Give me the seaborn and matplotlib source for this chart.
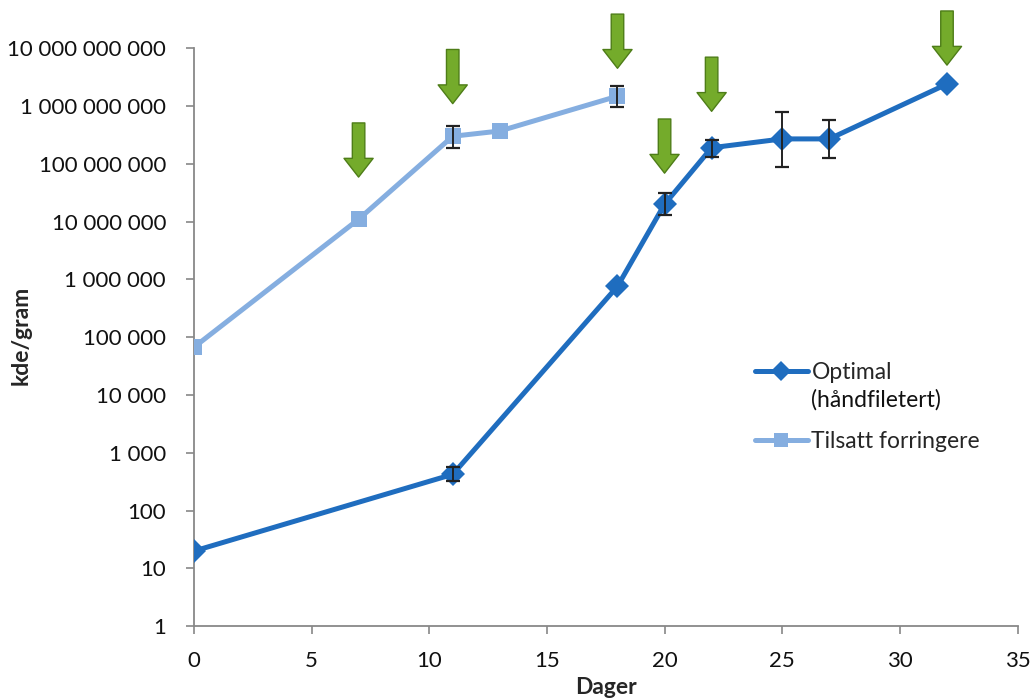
import numpy as np
import pandas as pd
import matplotlib
matplotlib.use("Agg")
import matplotlib.pyplot as plt
import seaborn as sns
from matplotlib.ticker import FixedLocator, FuncFormatter, NullLocator

# data
optimal_days = [0, 11, 18, 20, 22, 25, 27, 32]
optimal_kde = [20, 425, 7.6e5, 2.0e7, 1.9e8, 2.7e8, 2.7e8, 2.4e9]
optimal_low = [20, 320, 7.6e5, 1.3e7, 1.3e8, 8.7e7, 1.25e8, 2.4e9]
optimal_high = [20, 560, 7.6e5, 3.1e7, 2.6e8, 7.8e8, 5.7e8, 2.4e9]

tilsatt_days = [0, 7, 11, 13, 18]
tilsatt_kde = [6.7e4, 1.1e7, 3.0e8, 3.7e8, 1.48e9]
tilsatt_low = [6.7e4, 1.1e7, 1.9e8, 3.7e8, 9.5e8]
tilsatt_high = [6.7e4, 1.1e7, 4.5e8, 3.7e8, 2.2e9]

# green arrows: day and the level of the arrow tip
arrow_days = [7, 11, 18, 20, 22, 32]
arrow_tips = [5.9e7, 1.1e9, 4.5e9, 6.9e7, 8.1e8, 5.1e9]

label_opt = "Optimal"
label_opt2 = "(håndfiletert)"
label_til = "Tilsatt forringere"

df = pd.concat([
    pd.DataFrame({"Dager": optimal_days, "kde": optimal_kde, "serie": label_opt}),
    pd.DataFrame({"Dager": tilsatt_days, "kde": tilsatt_kde, "serie": label_til}),
])

sns.set_style("white")
plt.rcParams["font.family"] = ["Lato", "DejaVu Sans"]

fig = plt.figure(figsize=(10.31, 6.99), dpi=100)
ax = fig.add_axes([0.188, 0.104, 0.799, 0.827])

colors = {label_opt: "#1f6dbf", label_til: "#85aee0"}
sns.lineplot(data=df, x="Dager", y="kde", hue="serie", style="serie",
             palette=colors, markers={label_opt: "D", label_til: "s"},
             dashes=False, linewidth=3.6, markersize=12, markeredgewidth=0,
             ax=ax, zorder=3)

# error bars only where the point has a spread
for days, vals, lo, hi in [(optimal_days, optimal_kde, optimal_low, optimal_high),
                           (tilsatt_days, tilsatt_kde, tilsatt_low, tilsatt_high)]:
    days, vals, lo, hi = map(np.array, (days, vals, lo, hi))
    m = hi > lo
    ax.errorbar(days[m], vals[m], yerr=[vals[m] - lo[m], hi[m] - vals[m]], fmt="none",
                ecolor="#222222", elinewidth=1.4, capsize=5, capthick=1.6, zorder=4)

for d, tip in zip(arrow_days, arrow_tips):
    ax.annotate("", xy=(d, tip), xytext=(0, 39), textcoords="offset points",
                arrowprops=dict(arrowstyle="simple,head_length=0.9,head_width=1.4,tail_width=0.6",
                                mutation_scale=15, fc="#74ab2b", ec="#4e7d18",
                                lw=1, shrinkA=0, shrinkB=0),
                zorder=5)

ax.set_yscale("log")
ax.set_ylim(1, 1e10)
ax.set_xlim(0, 35)
ax.set_xticks(range(0, 36, 5))
ax.yaxis.set_major_locator(FixedLocator([10.0 ** k for k in range(11)]))
ax.yaxis.set_minor_locator(NullLocator())
ax.yaxis.set_major_formatter(FuncFormatter(lambda v, p: f"{int(round(v)):,}".replace(",", " ")))

ax.tick_params(axis="both", labelsize=16, colors="#888888", labelcolor="#111111",
               length=6, width=1.2, direction="out", left=True, bottom=True)
ax.tick_params(axis="y", pad=14)
ax.tick_params(axis="x", pad=12)
for s in ["top", "right"]:
    ax.spines[s].set_visible(False)
for s in ["left", "bottom"]:
    ax.spines[s].set_color("#888888")
    ax.spines[s].set_linewidth(1.3)

ax.set_xlabel("Dager", fontsize=16.5, fontweight="bold", va="bottom")
ax.set_ylabel("kde/gram", fontsize=16.5, fontweight="bold")
ax.xaxis.set_label_coords(0.5, -0.124)
ax.yaxis.set_label_coords(-0.197, 0.503)

handles, labels = ax.get_legend_handles_labels()
leg = ax.legend(handles, labels, loc="center left", bbox_to_anchor=(0.681, 0.379),
                frameon=False, fontsize=16.5, handlelength=2.3, handletextpad=0.17,
                labelspacing=2.1, borderpad=0, borderaxespad=0)
for h in leg.legend_handles:
    h.set_markersize(10)

# second line of the first legend label, placed under "Optimal"
fig.canvas.draw()
bb = leg.get_texts()[0].get_window_extent().transformed(fig.transFigure.inverted())
fig.text(bb.x0, bb.y0 - 0.008, label_opt2, va="top", ha="left",
         fontsize=16.5, color="#111111")

fig.savefig("out.png", dpi=100)
